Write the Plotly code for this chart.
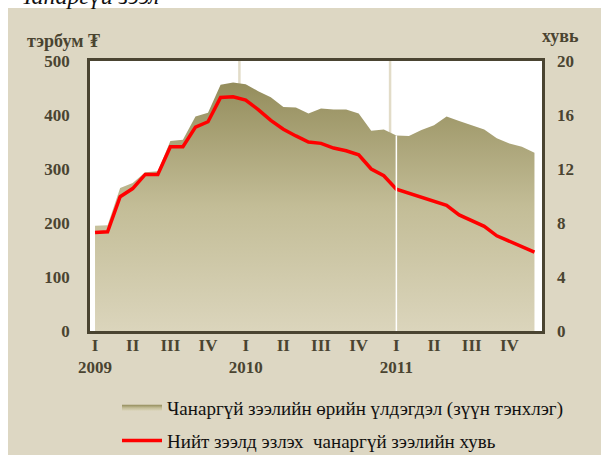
import plotly.graph_objects as go

# ---- data (monthly, Jan 2009 - Dec 2011) ----
months = list(range(36))
npl_balance = [195, 196, 265, 274, 294, 296, 352, 354, 397, 404, 456, 460,
               457, 444, 433, 415, 414, 403, 412, 410, 410, 403, 371, 373,
               362, 361, 372, 381, 397, 389, 381, 373, 357, 347, 341, 330]
npl_share = [7.3, 7.35, 9.95, 10.55, 11.6, 11.6, 13.65, 13.65, 15.1, 15.5, 17.3, 17.35,
             17.1, 16.4, 15.6, 14.95, 14.45, 14.0, 13.9, 13.55, 13.35, 13.05, 12.0, 11.5,
             10.5, 10.2, 9.95, 9.6, 9.3, 8.6, 8.15, 7.75, 7.05, 6.65, 6.3, 5.85]
tick_pos = [0, 3, 6, 9, 12, 15, 18, 21, 24, 27, 30, 33]
tick_text = ["I<br>2009", "II", "III", "IV", "I<br>2010", "II", "III", "IV",
             "I<br>2011", "II", "III", "IV"]
year_breaks = [11.5, 23.5]

name_area = "Чанаргүй зээлийн өрийн үлдэгдэл (зүүн тэнхлэг)"
name_line = "Нийт зээлд эзлэх  чанаргүй зээлийн хувь"

W, H = 601, 455
ML, MR, MT, MB = 90, 59, 61, 124
PW, PH = W - ML - MR, H - MT - MB

BEIGE = "#DDD7C3"
DARK = "#4A4431"
FONT = "Liberation Serif"

def px_x(px):
    return (px - ML) / PW

def px_y(py):
    return (H - MB - py) / PH

fig = go.Figure()
fig.add_trace(go.Scatter(
    x=months, y=npl_balance, name=name_area, mode="none", fill="tozeroy",
    fillgradient=dict(type="vertical", start=0, stop=460,
                      colorscale=[[0, "#DBD5BC"], [0.5, "#C3BD97"], [1, "#948D5C"]]),
    legendgroup="a", yaxis="y"))
fig.add_trace(go.Scatter(
    x=months, y=npl_share, name=name_line, mode="lines",
    line=dict(color="#FF0000", width=3.5), legendgroup="b", yaxis="y2"))

shapes = []
for xb in year_breaks:
    shapes.append(dict(type="line", xref="x", yref="paper", x0=xb, x1=xb, y0=0, y1=1,
                       line=dict(color="#E2DCC8", width=2.5), layer="below"))
# white gap in the area at the start of 2011
shapes.append(dict(type="line", xref="x", yref="y", x0=months[24], x1=months[24], y0=0,
                   y1=npl_balance[24], line=dict(color="#FFFFFF", width=1.5), layer="above"))
# white strips at left and top edges of the page
shapes.append(dict(type="rect", xref="paper", yref="paper", x0=px_x(-5), x1=px_x(8),
                   y0=px_y(H + 5), y1=px_y(-5), fillcolor="white", line_width=0, layer="below"))
shapes.append(dict(type="rect", xref="paper", yref="paper", x0=px_x(-5), x1=px_x(W + 5),
                   y0=px_y(8), y1=px_y(-5), fillcolor="white", line_width=0, layer="below"))

tick_font = dict(family=FONT, size=17, color=DARK, weight="bold")

fig.update_layout(
    width=W, height=H,
    margin=dict(l=ML, r=MR, t=MT, b=MB, autoexpand=False),
    paper_bgcolor=BEIGE, plot_bgcolor="white",
    showlegend=True,
    legend=dict(xref="container", yref="container", x=117 / W, y=1 - 389 / H,
                xanchor="left", yanchor="top",
                bgcolor="rgba(0,0,0,0)", font=dict(family=FONT, size=19, color="#111"),
                tracegroupgap=5, itemwidth=40),
    xaxis=dict(range=[-0.4, 35.6], tickvals=tick_pos, ticktext=tick_text,
               showgrid=False, zeroline=False, showline=True, mirror=True,
               linecolor=DARK, linewidth=2.5, ticks="", tickfont=tick_font,
               tickangle=0, automargin=False, ticklabelstandoff=-3),
    yaxis=dict(range=[0, 500], dtick=100, showgrid=False, zeroline=False,
               showline=True, mirror=True, linecolor=DARK, linewidth=2.5,
               ticks="", tickfont=tick_font, ticklabelstandoff=14, automargin=False),
    yaxis2=dict(range=[0, 20], dtick=4, overlaying="y", side="right", showgrid=False,
                zeroline=False, showline=False, ticks="", tickfont=tick_font,
                ticklabelstandoff=14, automargin=False),
    shapes=shapes,
    annotations=[
        dict(text="тэрбум ₮", xref="paper", yref="paper", x=px_x(63), y=px_y(41),
             xanchor="center", yanchor="middle", showarrow=False,
             font=dict(family=FONT, size=18, color=DARK, weight="bold")),
        dict(text="хувь", xref="paper", yref="paper", x=px_x(560), y=px_y(36),
             xanchor="center", yanchor="middle", showarrow=False,
             font=dict(family=FONT, size=18, color=DARK, weight="bold")),
        dict(text="<i>Чанаргүй зээл</i>", xref="paper", yref="paper", x=px_x(13), y=px_y(11),
             xanchor="left", yanchor="bottom", showarrow=False,
             font=dict(family=FONT, size=24, color="#111")),
    ],
)

fig.write_html("out.html", config={"displayModeBar": False},
               post_script="document.body.style.margin='0';")
